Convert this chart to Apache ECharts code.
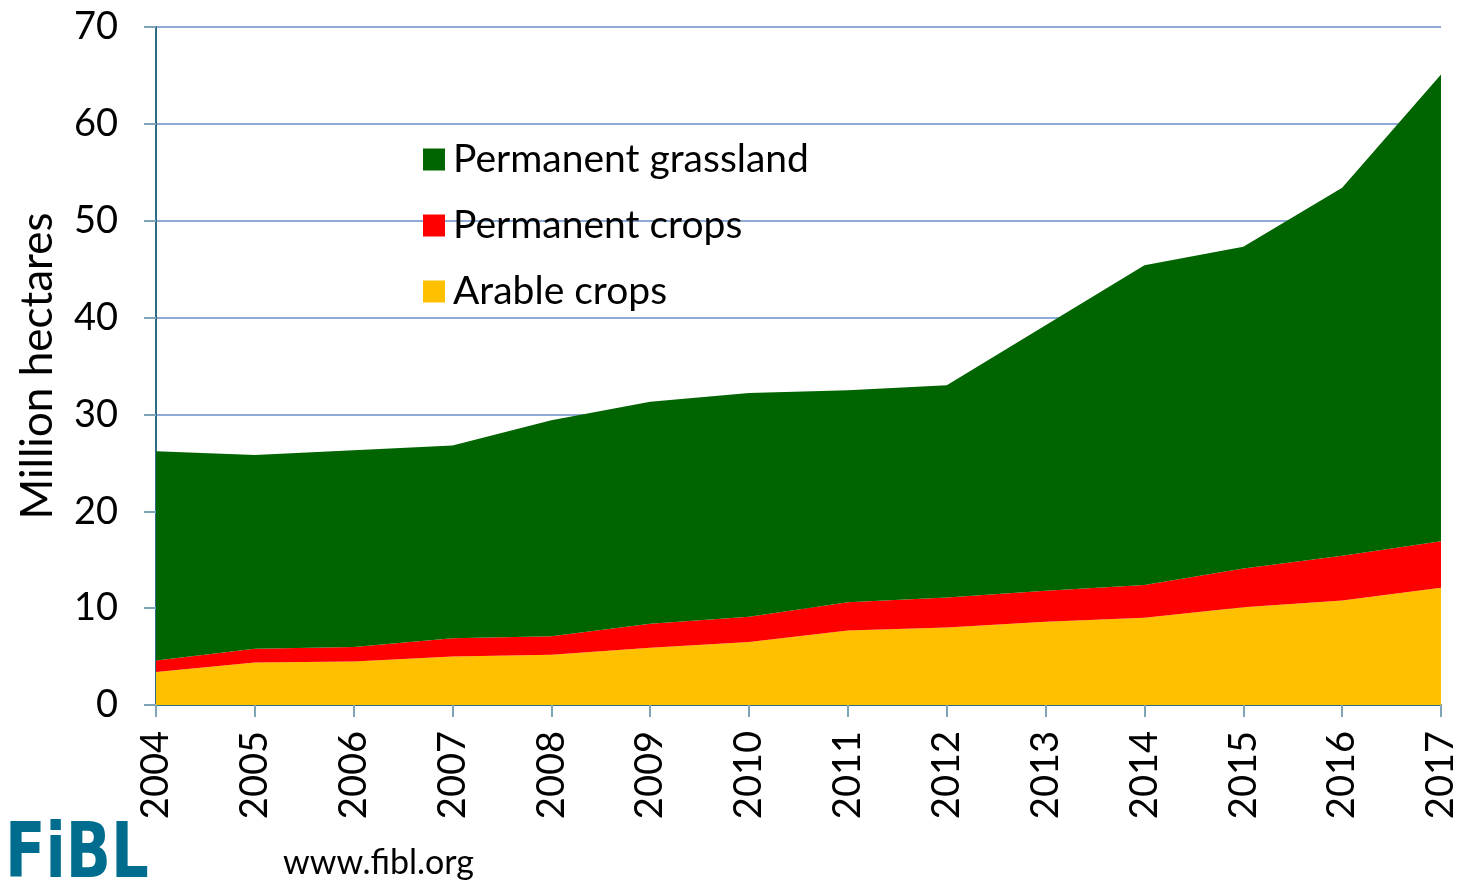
<!DOCTYPE html>
<html>
<head>
<meta charset="utf-8">
<script src="https://cdn.jsdelivr.net/npm/echarts@6/dist/echarts.min.js"></script>
<style>
  html, body { margin: 0; padding: 0; background: #fff; }
  #chart { width: 1463px; height: 887px; }
</style>
</head>
<body>
<div id="chart"></div>
<script>
const years = ['2004', '2005', '2006', '2007', '2008', '2009', '2010', '2011', '2012', '2013', '2014', '2015', '2016', '2017']
const arableCrops = [3.4, 4.4, 4.5, 5.0, 5.2, 5.9, 6.5, 7.7, 8.0, 8.6, 9.0, 10.1, 10.8, 12.1]
const permanentCrops = [1.2, 1.4, 1.5, 1.9, 1.9, 2.5, 2.6, 2.9, 3.1, 3.2, 3.4, 4.0, 4.6, 4.8]
const permanentGrassland = [21.6, 20.0, 20.3, 19.9, 22.3, 22.9, 23.1, 21.9, 21.9, 27.4, 33.0, 33.2, 38.0, 48.2]

const font = 'Lato, "Open Sans", sans-serif'
const chart = echarts.init(document.getElementById('chart'))

const areaSeries = (name, data, color) => ({
  name,
  type: 'line',
  stack: 'total',
  data,
  symbol: 'none',
  lineStyle: { width: 0 },
  itemStyle: { color },
  areaStyle: { color, opacity: 1 },
  emphasis: { disabled: true }
})

chart.setOption({
  animation: false,
  grid: { left: 156, right: 22, top: 27, bottom: 182 },
  legend: {
    orient: 'vertical',
    left: 418,
    top: 135,
    itemWidth: 22,
    itemHeight: 22,
    itemGap: 27,
    icon: 'rect',
    data: ['Permanent grassland', 'Permanent crops', 'Arable crops'],
    textStyle: { fontFamily: font, fontSize: 39, color: '#000', padding: [0, 0, 0, 3] }
  },
  xAxis: {
    type: 'category',
    boundaryGap: false,
    data: years,
    axisLine: { lineStyle: { color: '#2e6b85', width: 2 } },
    axisTick: { length: 12, lineStyle: { color: '#7fa3b7', width: 2 } },
    axisLabel: { rotate: 90, margin: 26, fontFamily: font, fontSize: 38, color: '#000' }
  },
  yAxis: {
    type: 'value',
    min: 0,
    max: 70,
    interval: 10,
    name: 'Million hectares',
    nameLocation: 'middle',
    nameGap: 96,
    nameTextStyle: { fontFamily: font, fontSize: 44, color: '#000' },
    axisLine: { show: true, lineStyle: { color: '#2e6b85', width: 2 } },
    axisTick: { show: true, length: 12, lineStyle: { color: '#7fa3b7', width: 2 } },
    axisLabel: { margin: 38, fontFamily: font, fontSize: 38, color: '#000' },
    splitLine: { lineStyle: { color: '#8eaad6', width: 2 } }
  },
  series: [
    areaSeries('Arable crops', arableCrops, '#ffc000'),
    areaSeries('Permanent crops', permanentCrops, '#ff0000'),
    areaSeries('Permanent grassland', permanentGrassland, '#006400')
  ],
  graphic: [
    {
      type: 'text',
      x: 5,
      y: 819,
      scaleX: 0.78,
      style: { text: 'FiBL', fontFamily: '"DejaVu Sans", sans-serif', fontWeight: 'bold', fontSize: 76, fill: '#006d8f' }
    },
    {
      type: 'text',
      left: 283,
      top: 846,
      style: { text: 'www.fibl.org', fontFamily: font, fontSize: 34, fill: '#000' }
    }
  ]
})
</script>
</body>
</html>
